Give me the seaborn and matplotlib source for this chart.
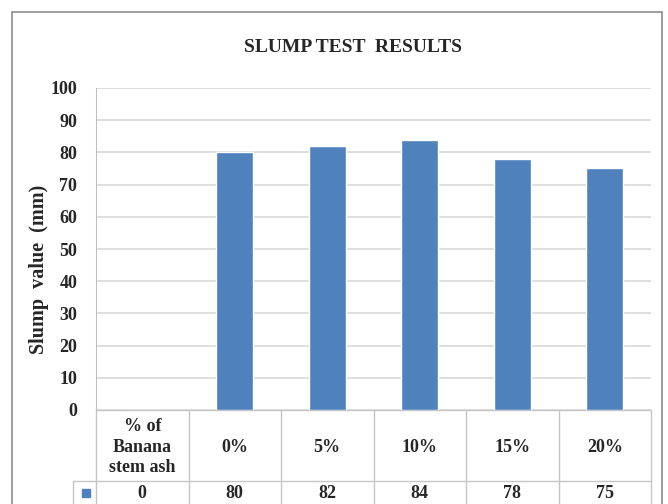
import matplotlib
matplotlib.use("Agg")
import matplotlib.pyplot as plt
import matplotlib.transforms as mtransforms
from matplotlib.patches import Rectangle
import seaborn as sns
import pandas as pd

# Chart data
categories = ["% of\nBanana\nstem ash", "0%", "5%", "10%", "15%", "20%"]
slump_mm = [0, 80, 82, 84, 78, 75]
value_labels = ["0", "80", "82", "84", "78", "75"]
y_ticks = [0, 10, 20, 30, 40, 50, 60, 70, 80, 90, 100]

df = pd.DataFrame({"cat": categories, "slump": slump_mm})

sns.set_style("white")
plt.rcParams["font.family"] = ["Liberation Serif", "DejaVu Serif"]
plt.rcParams["font.weight"] = "bold"

bar_col = "#4F81BD"
grid_col = "#D9D9D9"
table_col = "#C6C6C6"

fig = plt.figure(figsize=(6.68, 5.04), dpi=100)
ax = fig.add_axes([96 / 668, 94 / 504, 555 / 668, 322 / 504])

sns.barplot(data=df, x="cat", y="slump", color=bar_col, width=0.4,
            saturation=1, ax=ax, zorder=3)

ax.set_xlim(-0.5, 5.5)
ax.set_ylim(0, 100)
ax.set_yticks(y_ticks)
ax.set_xticks([])
ax.set_xlabel("")
ax.yaxis.grid(True, color=grid_col, linewidth=1.2, zorder=0)
ax.set_axisbelow(True)
for s in ["top", "right", "bottom"]:
    ax.spines[s].set_visible(False)
ax.spines["left"].set_color("#BFBFBF")
ax.tick_params(axis="y", left=False, labelsize=13, pad=10)
for lab in ax.get_yticklabels():
    lab.set_fontweight("bold")
ax.set_ylabel("Slump  value  (mm)", fontsize=14.5, fontweight="bold", va="center")
ax.yaxis.set_label_coords((39 - 96) / 555, (410 - 269) / 322)

# data table under the axis
tr = mtransforms.blended_transform_factory(ax.transData, ax.transAxes)
row1 = -(481 - 410) / 322
row_end = -0.4
key_left = (73 - 96) / 92.5 - 0.5
for i in range(len(categories) + 1):
    ax.plot([i - 0.5, i - 0.5], [0, row_end], color=table_col, lw=1,
            transform=tr, clip_on=False)
ax.plot([-0.5, 5.5], [0, 0], color=table_col, lw=1, transform=tr, clip_on=False)
ax.plot([key_left, 5.5], [row1, row1], color=table_col, lw=1,
        transform=tr, clip_on=False)
ax.plot([key_left, key_left], [row1, row_end], color=table_col, lw=1,
        transform=tr, clip_on=False)
ax.plot([(key_left - 0.5) / 2 + 0.02], [-(493 - 410) / 322], marker="s",
        markersize=6, color=bar_col, transform=tr, clip_on=False)

for i, (c, v) in enumerate(zip(categories, value_labels)):
    ax.text(i, -(447 - 410) / 322, c, transform=tr, ha="center", va="center",
            fontsize=13, fontweight="bold", linespacing=1.25)
    ax.text(i, -(493 - 410) / 322, v, transform=tr, ha="center", va="center",
            fontsize=13, fontweight="bold")

fig.text(353 / 668, 1 - 47 / 504, "SLUMP TEST  RESULTS", ha="center",
         va="center", fontsize=14, fontweight="bold")

fig.patches.append(Rectangle((12 / 668, -0.1), (662 - 12) / 668, 1 - 12 / 504 + 0.1,
                             transform=fig.transFigure, fill=False,
                             edgecolor="#8C8C8C", linewidth=1.2))

fig.savefig("out.png", dpi=100)
